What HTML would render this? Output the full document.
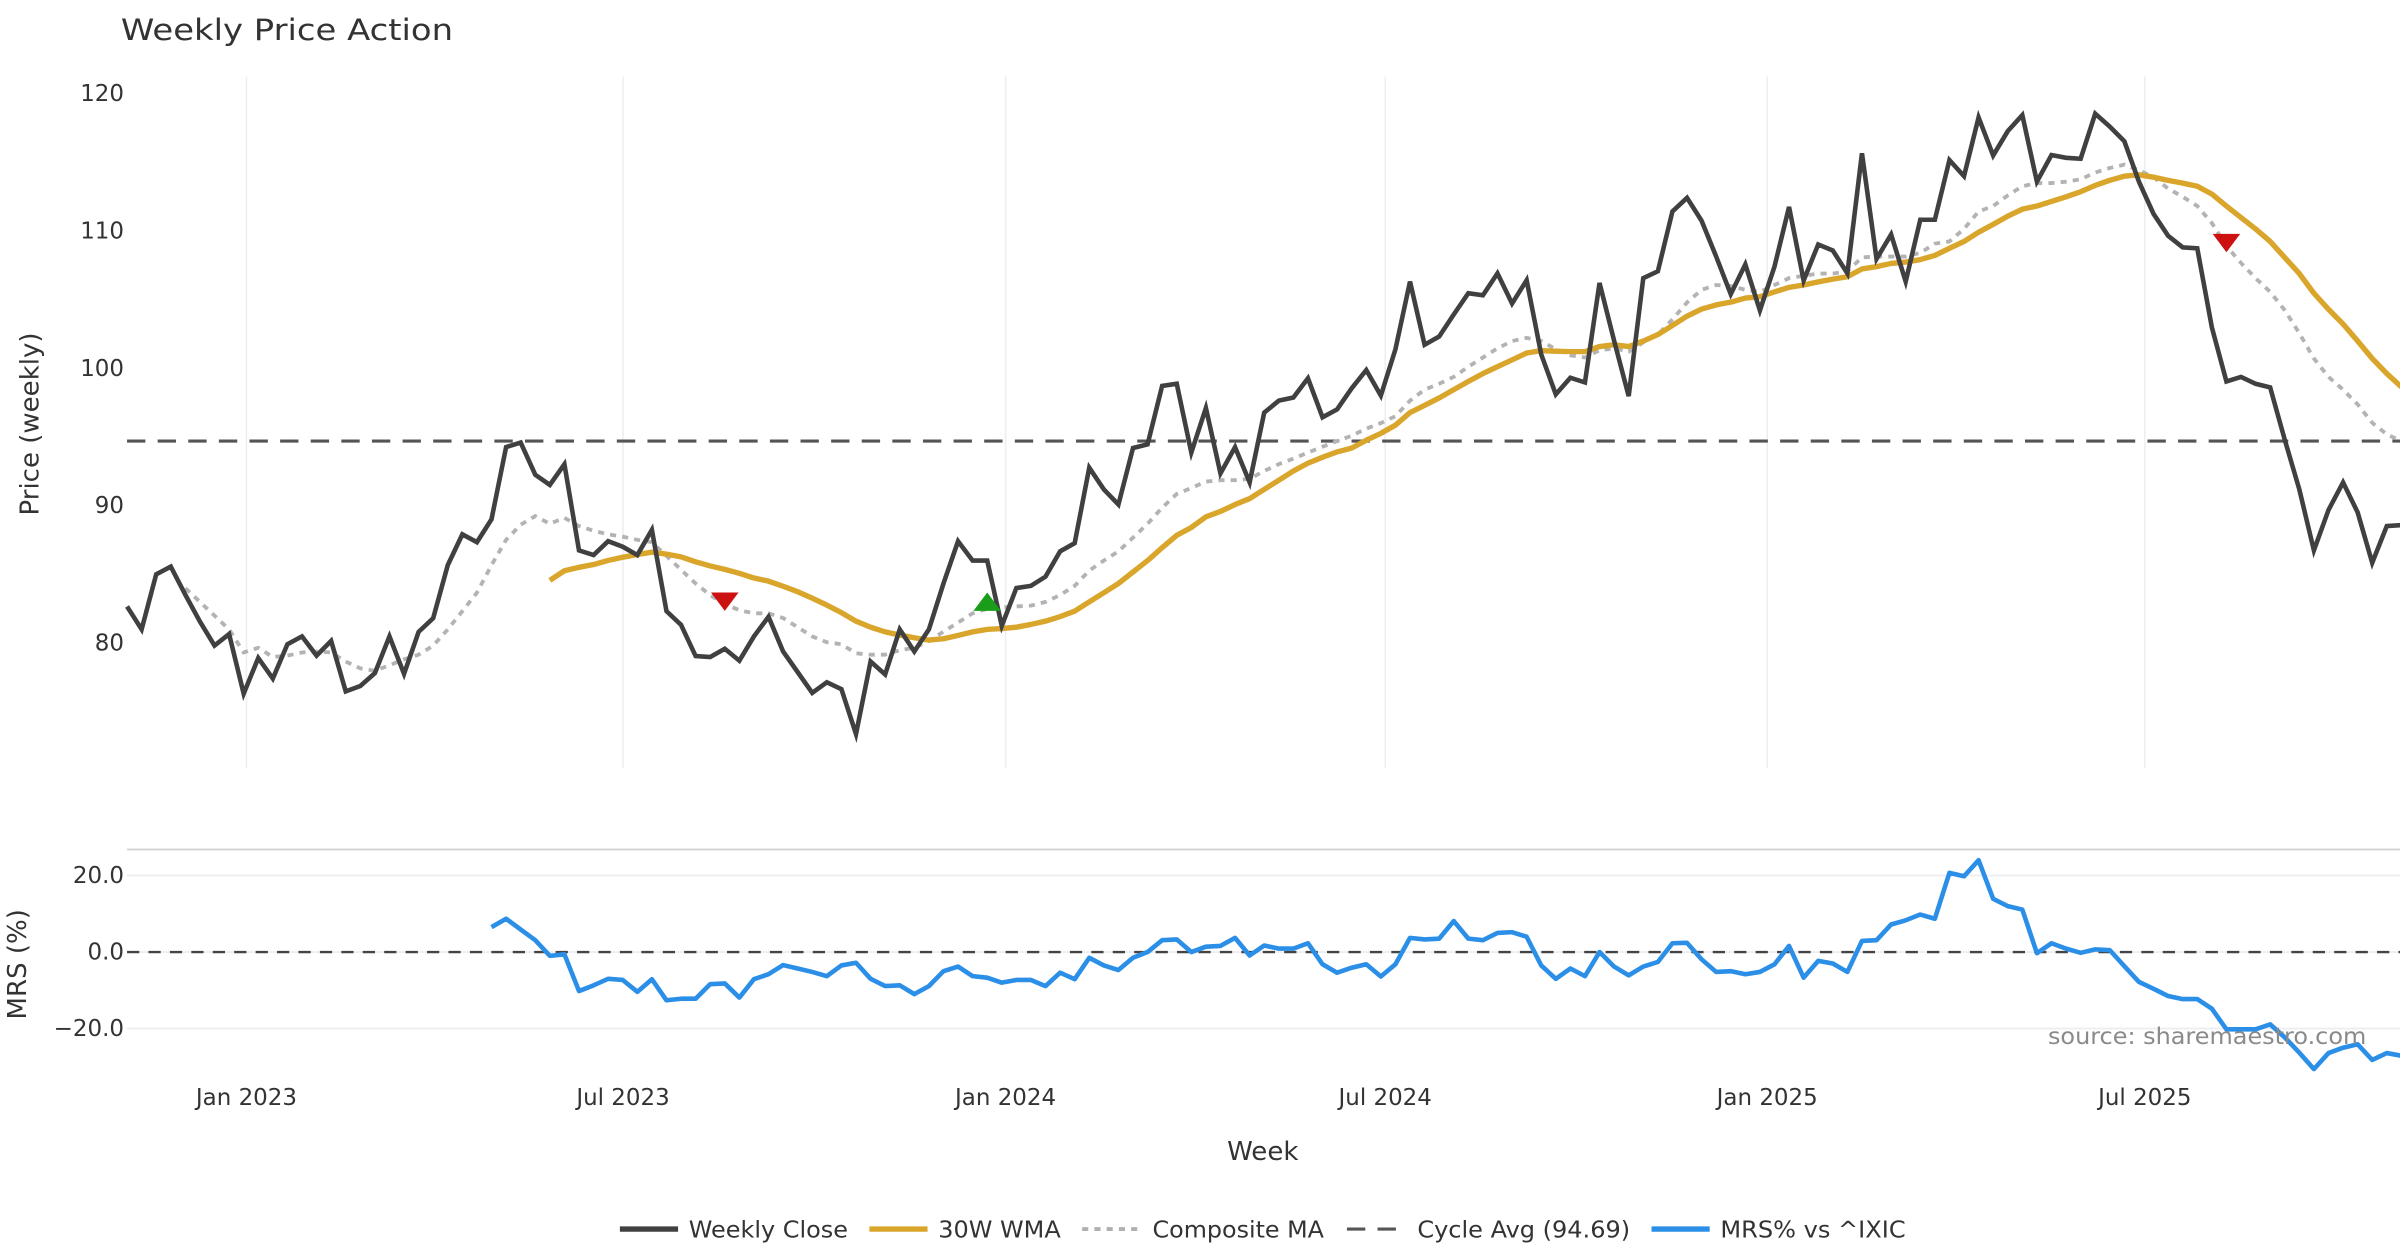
<!DOCTYPE html>
<html><head><meta charset="utf-8"><style>
html,body{margin:0;padding:0;background:#fff;}
svg{display:block;font-family:"DejaVu Sans","Liberation Sans",sans-serif;}
</style></head><body>
<svg id="chart" width="2400" height="1260" viewBox="0 0 1568 823.2" preserveAspectRatio="none" xmlns="http://www.w3.org/2000/svg">
<text x="79" y="26" font-size="19" fill="#333" textLength="217" lengthAdjust="spacingAndGlyphs">Weekly Price Action</text>
<g id="grid"></g>
<g id="series"></g>
<g id="axes"></g>
<text transform="translate(25,277) rotate(-90)" text-anchor="middle" font-size="17" fill="#333">Price (weekly)</text>
<text transform="translate(17,630) rotate(-90)" text-anchor="middle" font-size="17" fill="#333">MRS (%)</text>
<text x="825" y="758" text-anchor="middle" font-size="17" fill="#333">Week</text>
<text x="1338" y="682" font-size="15" fill="#8a8a8a" textLength="208" lengthAdjust="spacingAndGlyphs">source: sharemaestro.com</text>
<g font-size="15" fill="#333">
  <g><line x1="405" y1="803" x2="443" y2="803" stroke="#404040" stroke-width="3.5"/><text x="450" y="808.5" textLength="104" lengthAdjust="spacingAndGlyphs">Weekly Close</text></g>
  <g><line x1="568" y1="803" x2="606" y2="803" stroke="#d9a52b" stroke-width="3.5"/><text x="613" y="808.5" textLength="80" lengthAdjust="spacingAndGlyphs">30W WMA</text></g>
  <g><line x1="707" y1="803" x2="745" y2="803" stroke="#b0b0b0" stroke-width="2.5" stroke-dasharray="4 4"/><text x="753" y="808.5" textLength="112" lengthAdjust="spacingAndGlyphs">Composite MA</text></g>
  <g><line x1="880" y1="803" x2="918" y2="803" stroke="#555" stroke-width="2" stroke-dasharray="12 8"/><text x="926" y="808.5" textLength="139" lengthAdjust="spacingAndGlyphs">Cycle Avg (94.69)</text></g>
  <g><line x1="1079" y1="803" x2="1117" y2="803" stroke="#2b8fe8" stroke-width="3.5"/><text x="1124" y="808.5" textLength="121" lengthAdjust="spacingAndGlyphs">MRS% vs ^IXIC</text></g>
</g>
</svg>
<script>
const closeValues=[82.65,80.98,84.99,85.55,83.5,81.55,79.8,80.64,76.3,78.9,77.4,79.9,80.47,79.07,80.14,76.47,76.86,77.8,80.47,77.74,80.8,81.8,85.66,87.9,87.33,89.0,94.25,94.58,92.24,91.5,93.0,86.73,86.39,87.4,87.0,86.39,88.23,82.31,81.31,79.04,78.97,79.57,78.7,80.47,81.9,79.37,77.87,76.36,77.13,76.63,73.36,78.64,77.7,80.98,79.37,80.98,84.32,87.4,85.99,85.99,81.24,83.99,84.15,84.82,86.66,87.26,92.75,91.17,90.07,94.18,94.45,98.7,98.86,93.85,97.09,92.34,94.25,91.68,96.76,97.63,97.86,99.26,96.42,97.0,98.53,99.86,98.0,101.37,106.3,101.7,102.3,103.9,105.45,105.3,106.9,104.7,106.4,101.0,98.09,99.3,98.96,106.2,102.0,97.96,106.55,107.05,111.4,112.4,110.73,108.12,105.38,107.55,104.2,107.39,111.73,106.38,109.0,108.56,106.9,115.64,107.95,109.73,106.3,110.8,110.8,115.14,113.97,118.25,115.48,117.25,118.42,113.57,115.51,115.31,115.24,118.52,117.58,116.51,113.57,111.23,109.63,108.79,108.72,102.97,99.03,99.36,98.86,98.6,94.79,91.17,86.73,89.67,91.68,89.5,85.83,88.5,88.57];
const wmaStart=29;
const wmaValues=[84.55,85.25,85.5,85.7,86.0,86.23,86.43,86.6,86.46,86.26,85.9,85.6,85.35,85.06,84.72,84.49,84.12,83.72,83.25,82.75,82.2,81.58,81.14,80.8,80.57,80.37,80.2,80.3,80.54,80.8,80.98,81.04,81.14,81.34,81.58,81.91,82.31,82.98,83.65,84.32,85.16,85.99,86.93,87.83,88.4,89.17,89.57,90.07,90.5,91.17,91.84,92.51,93.08,93.51,93.9,94.18,94.75,95.25,95.85,96.76,97.29,97.83,98.43,99.03,99.6,100.1,100.6,101.1,101.27,101.23,101.2,101.2,101.57,101.7,101.57,101.97,102.44,103.1,103.78,104.3,104.6,104.8,105.1,105.2,105.55,105.88,106.05,106.28,106.48,106.65,107.22,107.39,107.62,107.72,107.9,108.2,108.72,109.22,109.89,110.46,111.06,111.57,111.8,112.13,112.47,112.84,113.3,113.67,113.97,114.07,113.9,113.67,113.47,113.24,112.67,111.8,110.96,110.13,109.22,108.05,106.88,105.45,104.28,103.21,101.97,100.7,99.6,98.63];
const compStart=4;
const compValues=[83.98,82.98,81.98,80.98,79.3,79.64,78.97,79.07,79.3,79.37,79.3,78.64,78.14,77.97,78.37,78.8,79.14,79.8,80.98,82.31,83.65,85.66,87.5,88.6,89.23,88.67,89.1,88.5,88.16,87.9,87.73,87.5,87.33,86.33,85.32,84.32,83.48,82.81,82.38,82.15,82.15,81.81,81.14,80.47,80.04,79.9,79.24,79.14,79.14,79.47,79.64,80.14,80.81,81.48,82.15,82.48,82.58,82.65,82.71,82.98,83.48,84.15,85.26,85.99,86.66,87.66,88.67,89.84,90.84,91.27,91.74,91.84,91.84,91.94,92.51,93.01,93.41,93.85,94.28,94.69,95.08,95.59,96.0,96.5,97.63,98.43,98.86,99.36,100.1,100.77,101.44,101.97,102.2,101.97,101.37,100.93,100.77,101.3,101.44,101.2,101.87,102.44,103.54,104.78,105.7,106.05,105.98,105.7,105.55,106.05,106.55,106.72,106.88,106.88,107.05,108.06,108.12,108.12,108.12,108.39,109.06,109.22,110.13,111.4,111.8,112.57,113.24,113.47,113.47,113.57,113.74,114.24,114.57,114.81,114.41,113.9,113.07,112.47,111.8,110.56,108.89,107.65,106.55,105.55,104.21,102.54,100.7,99.36,98.43,97.36,96.02,95.18,94.69];
const cycleAvg=94.69;
const sellSignalIdx=[41,144];
const sellSignalVals=[83.0,109.1];
const buySignalIdx=[59];
const buySignalVals=[83.0];
const mrsStart=25;
const mrsValues=[6.5,8.7,5.9,3.1,-1.0,-0.6,-10.2,-8.7,-7.0,-7.3,-10.4,-7.1,-12.6,-12.2,-12.2,-8.4,-8.2,-11.9,-7.1,-5.8,-3.4,-4.3,-5.2,-6.3,-3.5,-2.8,-7.0,-8.9,-8.7,-11.0,-8.9,-5.0,-3.8,-6.3,-6.7,-8.0,-7.3,-7.3,-8.9,-5.4,-7.1,-1.5,-3.5,-4.7,-1.5,0,3.1,3.3,0,1.4,1.6,3.7,-0.9,1.7,0.9,0.9,2.3,-3.2,-5.4,-4.1,-3.2,-6.4,-3.2,3.7,3.3,3.5,8.1,3.5,3.1,5.0,5.2,4.0,-3.5,-7.0,-4.3,-6.3,0,-3.8,-6.1,-3.8,-2.6,2.3,2.4,-1.9,-5.2,-5.0,-5.8,-5.2,-3.2,1.6,-6.7,-2.3,-3.0,-5.2,2.9,3.1,7.2,8.3,9.8,8.7,20.7,19.8,24.0,13.9,12.0,11.1,-0.3,2.3,0.9,-0.2,0.7,0.5,-3.7,-7.8,-9.6,-11.5,-12.3,-12.3,-14.8,-20.2,-20.2,-20.2,-18.9,-22.3,-26.3,-30.6,-26.4,-25.0,-24.1,-28.2,-26.4,-27.1];
const priceTicks=[80,90,100,110,120];
const mrsTicks=[20,0,-20];
const mrsTickLabels=["20.0","0.0","\u221220.0"];
const xTickPos=[8.19,34.02,60.26,86.3,112.5,138.4];
const xTickLabels=["Jan 2023","Jul 2023","Jan 2024","Jul 2024","Jan 2025","Jul 2025"];

const NS="http://www.w3.org/2000/svg";
const xS=i=>83+i*9.525;
const yP=v=>420-(v-80)*8.975;
const yM=v=>622-v*2.5;
function mk(tag,parent,attrs){const e=document.createElementNS(NS,tag);for(const k in attrs)e.setAttribute(k,attrs[k]);parent.appendChild(e);return e;}
const grid=document.getElementById('grid'),ser=document.getElementById('series'),axes=document.getElementById('axes');

xTickPos.forEach((p,k)=>{
  const g=mk('line',grid,{x1:xS(p),x2:xS(p),y1:50,y2:502,stroke:'#eceef2','stroke-width':1});
  
  
  const t=mk('text',axes,{x:xS(p),y:722,'text-anchor':'middle','font-size':15,fill:'#333'});
  t.textContent=xTickLabels[k];
  
  
});
priceTicks.forEach(v=>{
  const t=mk('text',axes,{x:81,y:yP(v)+5,'text-anchor':'end','font-size':15,fill:'#333'});
  t.textContent=v;
  
  
});
const sp=mk('line',grid,{x1:83,x2:1568,y1:555,y2:555,stroke:'#cfcfcf','stroke-width':1.2});


mrsTicks.forEach((v,k)=>{
  const l=mk('line',grid,{x1:83,x2:1568,y1:yM(v),y2:yM(v),stroke:'#eceef2','stroke-width':1.2});
  
  
  const t=mk('text',axes,{x:81,y:yM(v)+5,'text-anchor':'end','font-size':15,fill:'#333'});
  t.textContent=mrsTickLabels[k];
  
  
});
function path(vals,start,yf){return vals.map((v,j)=>(j?'L':'M')+xS(start+j).toFixed(2)+','+yf(v).toFixed(2)).join('');}
const ca=mk('line',ser,{x1:83,x2:1568,y1:yP(cycleAvg),y2:yP(cycleAvg),stroke:'#555','stroke-width':2,'stroke-dasharray':'12 8'});


const cm=mk('path',ser,{d:path(compValues,compStart,yP),fill:'none',stroke:'#b3b3b3','stroke-width':2.5,'stroke-dasharray':'4 4'});


const wm=mk('path',ser,{d:path(wmaValues,wmaStart,yP),fill:'none',stroke:'#d9a52b','stroke-width':3.5,'stroke-linejoin':'round'});


const cl=mk('path',ser,{d:path(closeValues,0,yP),fill:'none',stroke:'#404040','stroke-width':3,'stroke-linejoin':'miter'});


sellSignalIdx.forEach((ix,k)=>{
  const x=xS(ix),y=yP(sellSignalVals[k]);
  const t=mk('path',ser,{d:`M${x-9},${y-6}L${x+9},${y-6}L${x},${y+6}Z`,fill:'#cc1111'});
  
  
});
buySignalIdx.forEach((ix,k)=>{
  const x=xS(ix),y=yP(buySignalVals[k]);
  const t=mk('path',ser,{d:`M${x-9},${y+6}L${x+9},${y+6}L${x},${y-6}Z`,fill:'#1a9e1a'});
  
  
});
const mz=mk('line',ser,{x1:83,x2:1568,y1:yM(0),y2:yM(0),stroke:'#444','stroke-width':1.6,'stroke-dasharray':'8 6'});


const mr=mk('path',ser,{d:path(mrsValues,mrsStart,yM),fill:'none',stroke:'#2b8fe8','stroke-width':3,'stroke-linejoin':'round'});


</script>
</body></html>
